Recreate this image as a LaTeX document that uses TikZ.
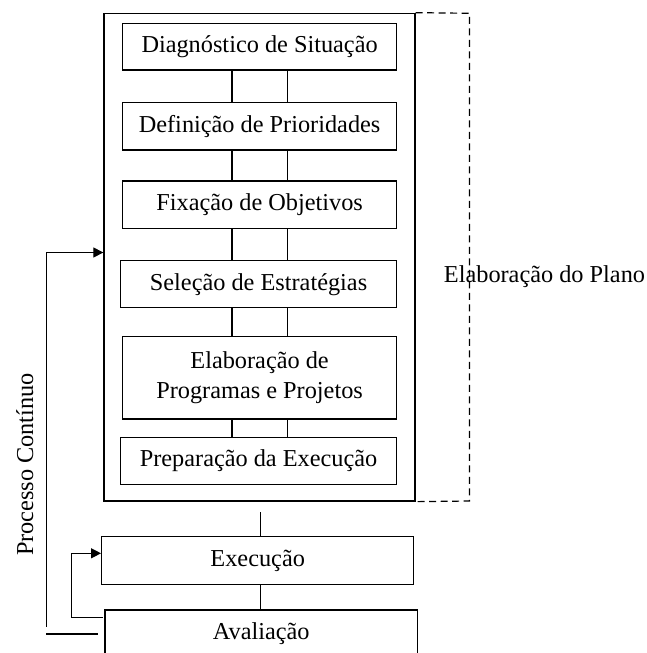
\documentclass[tikz,border=0pt]{standalone}
\usepackage{fontspec}
\setmainfont{Liberation Serif}
\usetikzlibrary{arrows.meta,calc}
\begin{document}
\begin{tikzpicture}[x=1pt,y=-1pt,
  box/.style={draw, line width=1.3pt, rectangle, inner sep=0pt, align=center,
    font=\fontsize{24.3}{30}\selectfont},
  lbl/.style={inner sep=0pt, font=\fontsize{24.3}{30}\selectfont},
  conn/.style={line width=1.2pt},
  arr/.style={line width=1.2pt, -{Triangle[length=10pt,width=10pt]}},
  dsh/.style={line width=1.2pt, dash pattern=on 7pt off 4.5pt}]
\useasboundingbox (0,0) rectangle (646,653);
\clip (0,0) rectangle (646,653);
% outer box
\node[draw, line width=1.3pt, inner sep=0pt, minimum width=311pt, minimum height=487.7pt] (outer) at (259.5,257.15) {};
% inner boxes
\node[box, minimum width=274.4pt, minimum height=46.7pt] (b1) at (259.6,46.65) {Diagnóstico de Situação};
\node[box, minimum width=274.4pt, minimum height=47.7pt] (b2) at (259.6,126.15) {Definição de Prioridades};
\node[box, minimum width=274.4pt, minimum height=47.3pt] (b3) at (259.6,204.65) {Fixação de Objetivos};
\node[box, minimum width=276.5pt, minimum height=47pt] (b4) at (258.55,284.2) {Seleção de Estratégias};
\node[box, minimum width=274.4pt, minimum height=82.3pt] (b5) at (259.6,377.85) {Elaboração de\\Programas e Projetos};
\node[box, minimum width=276.5pt, minimum height=47pt] (b6) at (258.55,460.8) {Preparação da Execução};
% lower boxes
\node[box, minimum width=312pt, minimum height=47.8pt] (exec) at (257.7,560.4) {Execução};
\node[box, minimum width=312.4pt, minimum height=47pt] (aval) at (261.2,633.5) {Avaliação};
% connector x positions
\coordinate (cl) at (232,0);
\coordinate (cr) at (287.2,0);
\foreach \a/\b in {b1/b2,b2/b3,b3/b4,b4/b5,b5/b6}{
  \draw[conn] (\a.south -| cl) -- (\b.north -| cl);
  \draw[conn] (\a.south -| cr) -- (\b.north -| cr);
}
\coordinate (ctop) at (260.4,512.3);
\draw[conn] (ctop) -- (exec.north -| ctop);
\draw[conn] (exec.south -| ctop) -- (aval.north -| ctop);
% dashed bracket
\coordinate (dtr) at (469.5,13.3);
\coordinate (dbr) at (469.5,501);
\draw[dsh] (outer.north east) -- (dtr) -- (dbr) -- (outer.south east);
% labels
\node[lbl, anchor=base] (plano) at (544.5,282) {Elaboração do Plano};
\node[lbl, rotate=90, anchor=base] (proc) at (33,464.5) {Processo Contínuo};
% inner feedback
\coordinate (i1) at (102.7,617.7);
\coordinate (i2) at (71.7,617.7);
\coordinate (i3) at (71.7,553.3);
\draw[arr] (i1) -- (i2) -- (i3) -- (i3 -| exec.west);
% outer feedback
\coordinate (o1) at (97.7,634);
\coordinate (o2) at (46.3,634);
\coordinate (o3) at (46.7,626.5);
\coordinate (o4) at (46.7,252.5);
\draw[conn] (o1) -- (o2);
\draw[arr] (o3) -- (o4) -- (o4 -| outer.west);
\end{tikzpicture}
\end{document}
